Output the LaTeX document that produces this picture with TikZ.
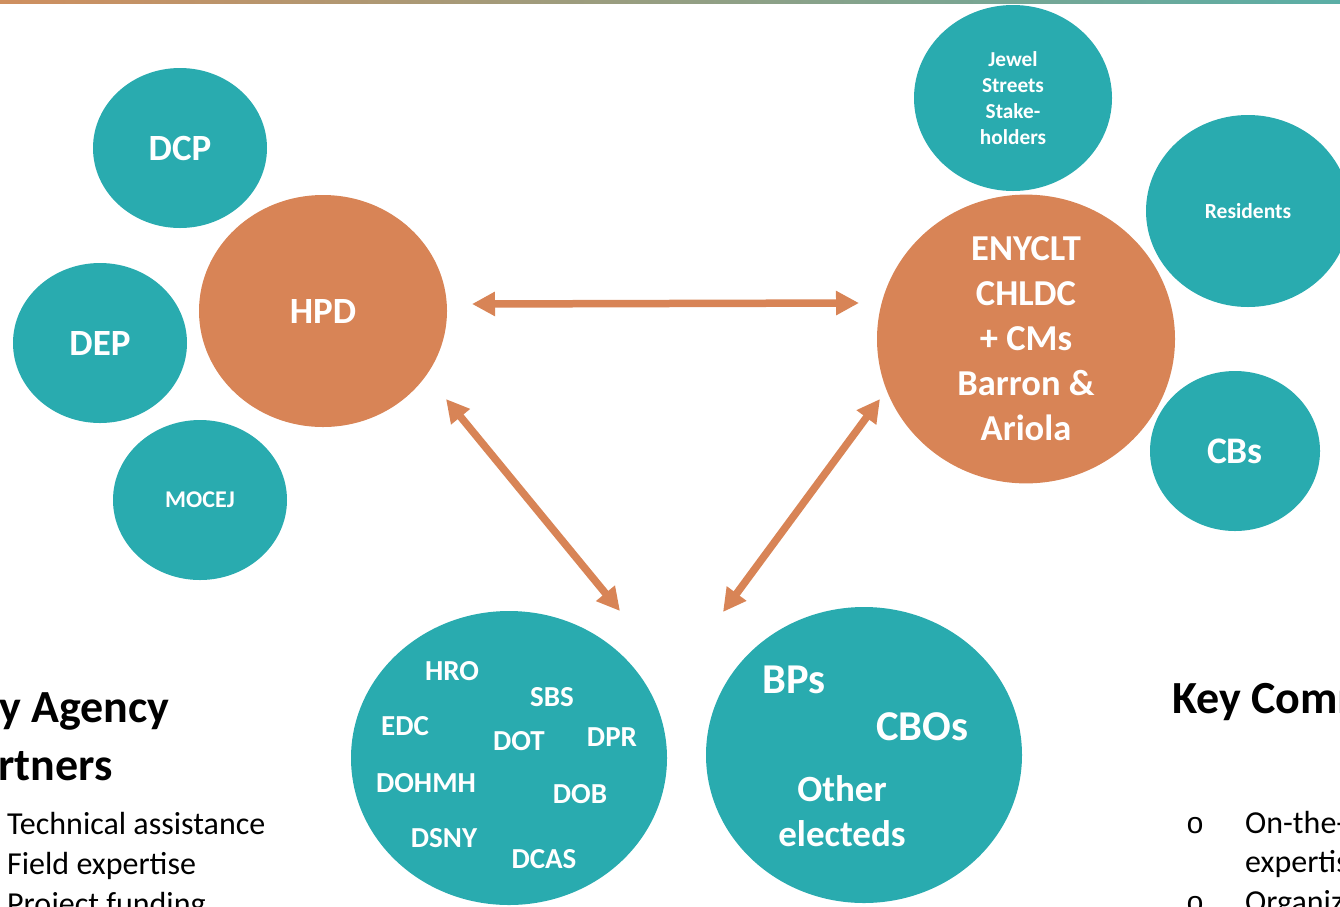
\documentclass[tikz,border=0pt]{standalone}
\usepackage{fontspec}
\setmainfont{Carlito}
\newfontfamily\bulletfont{Liberation Mono}
\usetikzlibrary{shapes.geometric, arrows.meta, positioning}

\definecolor{blobteal}{HTML}{29ABAF}
\definecolor{bloborange}{HTML}{D88456}
\definecolor{barorange}{HTML}{CF8F5F}
\definecolor{barteal}{HTML}{5AAEA6}
\newcommand{\fsz}[2]{\fontsize{#1}{#2}\selectfont}

\begin{document}
\begin{tikzpicture}[
            x=1pt, y=-1pt,
            blob/.style={ellipse, inner sep=0pt, text=white, font=\bfseries},
            tealblob/.style={blob, fill=blobteal},
            orangeblob/.style={blob, fill=bloborange},
            tag/.style={text=white, inner sep=0pt, font=\bfseries\fsz{29}{29}},
            linkarrow/.style={draw=bloborange, line width=7.5pt,
                {Triangle[width=23pt,length=23pt]}-{Triangle[width=23pt,length=23pt]}},
            heading/.style={anchor=base west, inner sep=0pt, font=\bfseries\fsz{46}{46}},
            bodyline/.style={anchor=base west, inner sep=0pt, font=\fsz{32}{32}}
        ]

        \useasboundingbox (0,0) rectangle (1340,906);

        % top bar
        \shade[left color=barorange, right color=barteal] (0,0) rectangle (1340,3);

        % HPD and its agencies
        \node[orangeblob, minimum width=248, minimum height=232, font=\bfseries\fsz{37}{37}] (hpd) at (323,311) {HPD};
        \node[tealblob, minimum width=174, minimum height=160, font=\bfseries\fsz{37}{37}] (dcp) at (180,148) {DCP};
        \node[tealblob, minimum width=174, minimum height=160, font=\bfseries\fsz{37}{37}] (dep) at (100,343) {DEP};
        \node[tealblob, minimum width=174, minimum height=160, font=\bfseries\fsz{24}{24}] (mocej) at (200,500) {MOCEJ};

        % community side
        \node[orangeblob, minimum width=298, minimum height=280, align=center, font=\bfseries\fsz{36.5}{45}] (enyclt) at (1026,339)
            {ENYCLT\\CHLDC\\+ CMs\\Barron \&\\Ariola};
        \node[tealblob, minimum width=198, minimum height=186, align=center, font=\bfseries\fsz{21.3}{25.8}] (jewel) at (1013,98)
            {Jewel\\Streets\\Stake-\\holders};
        \node[tealblob, minimum width=204, minimum height=192, font=\bfseries\fsz{21.5}{21.5}] (residents) at (1248,211) {Residents};
        \node[tealblob, minimum width=170, minimum height=160, font=\bfseries\fsz{37.5}{37.5}] (cbs) at (1235,451) {CBs};

        % city agencies
        \node[tealblob, minimum width=316, minimum height=294] (agencies) at (509,758) {};
        \foreach \name/\x/\y in {HRO/452/671, SBS/552/697, EDC/405/726, DOT/519/741, DPR/612/737,
                                 DOHMH/426/783, DOB/580/794, DSNY/444/838, DCAS/544/859}
            \node[tag] (tag-\name) at (\x,\y) {\name};

        % elected officials and CBOs
        \node[tealblob, minimum width=316, minimum height=296] (electeds) at (864,755) {};
        \node[tag, font=\bfseries\fsz{42.5}{42.5}] (bps) at (794,680) {BPs};
        \node[tag, font=\bfseries\fsz{42.5}{42.5}] (cbos) at (922,727) {CBOs};
        \node[tag, align=center, font=\bfseries\fsz{37}{45}] (others) at (842,811) {Other\\electeds};

        % arrow ends
        \coordinate (hpd-r) at (472,304);
        \coordinate (eny-l) at (859,303);
        \coordinate (hpd-b) at (446,399);
        \coordinate (agc-t) at (620,611);
        \coordinate (eny-b) at (880,399);
        \coordinate (elc-t) at (723,612);

        \draw[linkarrow] (hpd-r) -- (eny-l);
        \draw[linkarrow] (hpd-b) -- (agc-t);
        \draw[linkarrow] (eny-b) -- (elc-t);

        % side texts
        \node[heading] (agency-head1) at (-48,722) {Key Agency};
        \node[heading] (agency-head2) at (-48,780) {Partners};
        \node[bodyline] (agency-l1) at (7,834) {Technical assistance};
        \node[bodyline] (agency-l2) at (7,874) {Field expertise};
        \node[bodyline] (agency-l3) at (7,914) {Project funding};

        \node[heading] (comm-head) at (1172,713) {Key Community};
        \node[bodyline, font=\bulletfont\fsz{30}{30}] (comm-b1) at (1186,833) {o};
        \node[bodyline] (comm-l1) at (1245,833) {On-the-ground};
        \node[bodyline] (comm-l2) at (1245,872) {expertise};
        \node[bodyline, font=\bulletfont\fsz{30}{30}] (comm-b2) at (1186,912) {o};
        \node[bodyline] (comm-l3) at (1245,912) {Organizing};

    \end{tikzpicture}
\end{document}
